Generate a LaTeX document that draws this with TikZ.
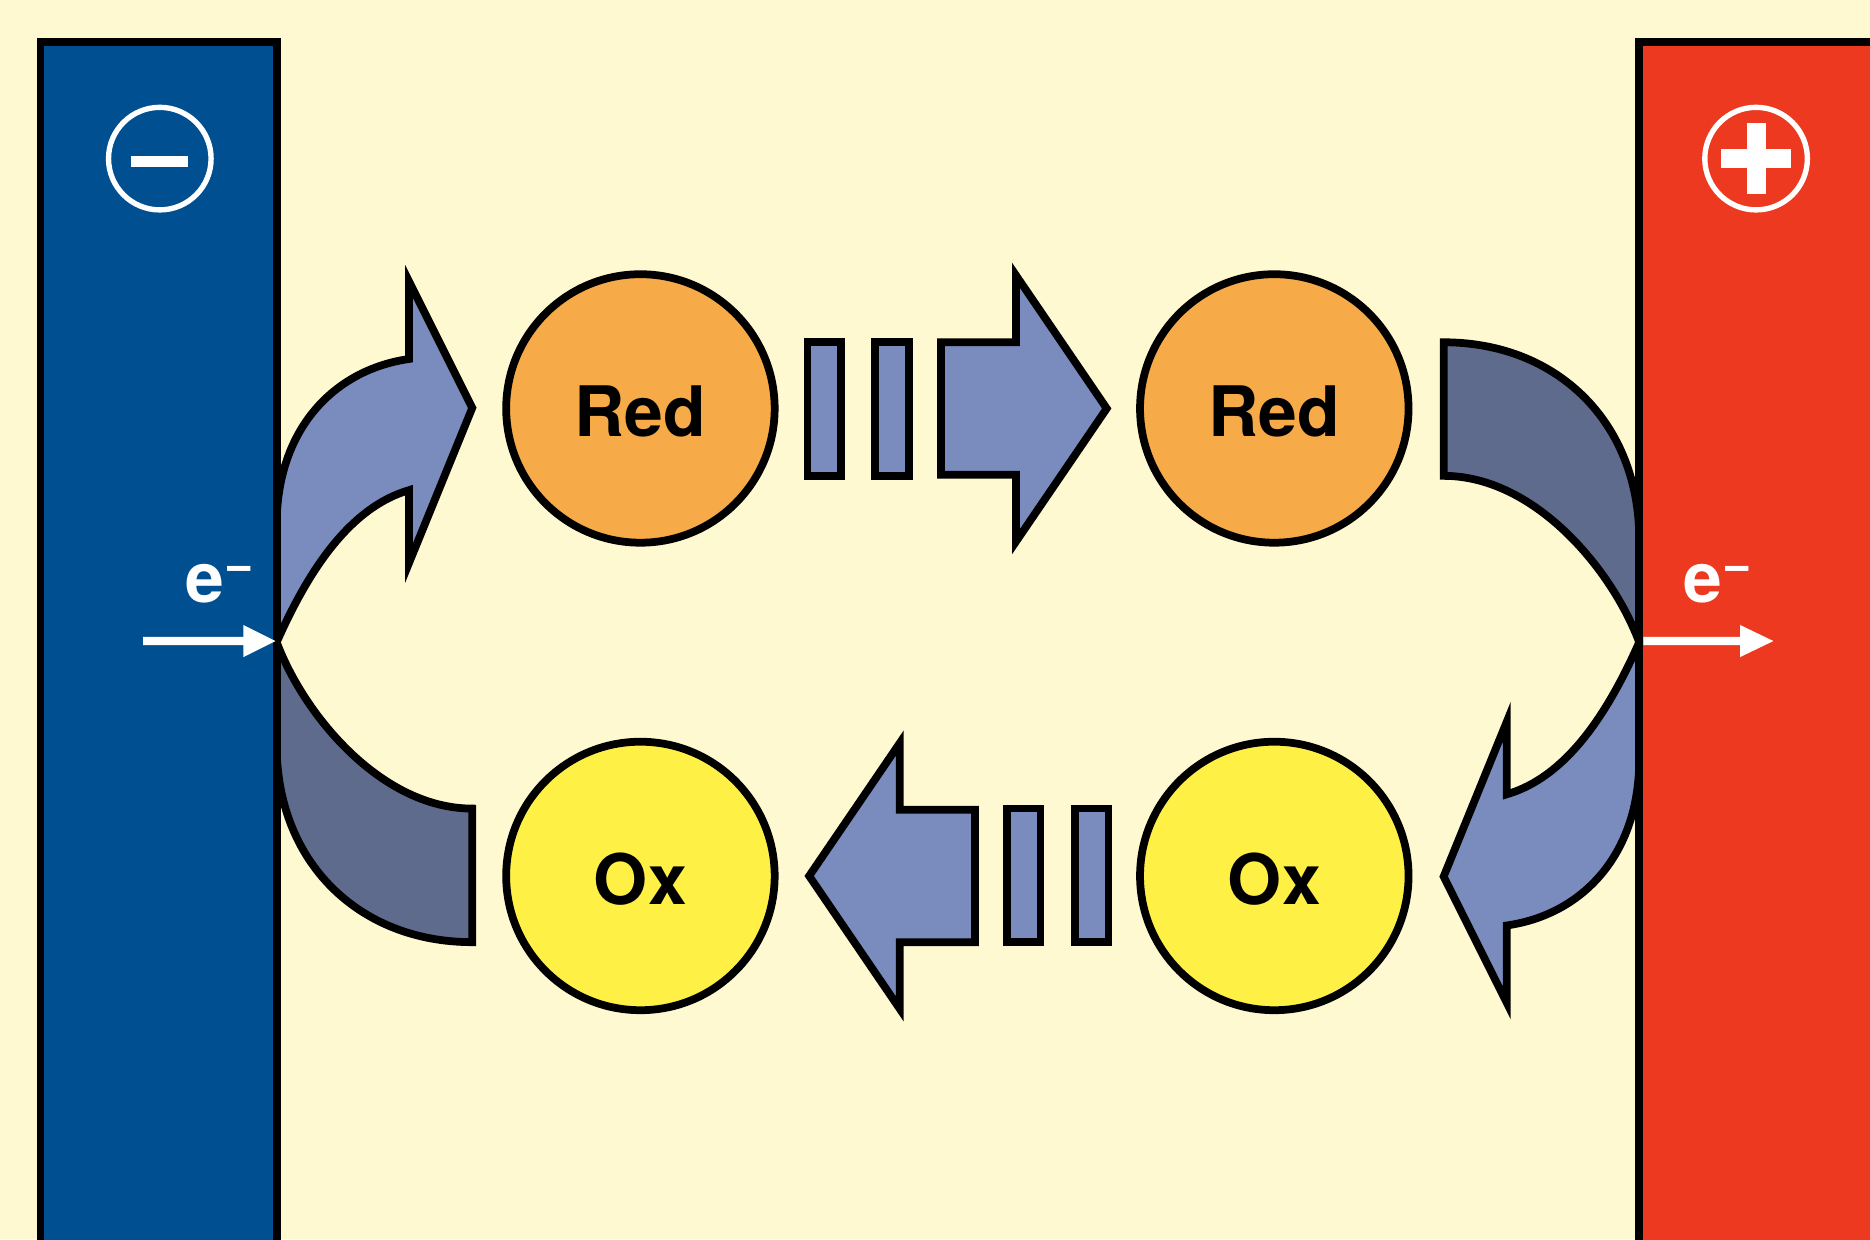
\documentclass[tikz,border=0pt]{standalone}
\usepackage{fontspec}
\setmainfont{TeX Gyre Heros}
\definecolor{bgcream}{RGB}{255,249,209}
\definecolor{elblue}{RGB}{0,79,145}
\definecolor{elred}{RGB}{237,57,32}
\definecolor{arrlight}{RGB}{122,140,190}
\definecolor{arrdark}{RGB}{94,107,140}
\definecolor{orangeC}{RGB}{246,170,72}
\definecolor{yellowC}{RGB}{255,240,70}
\newcommand\halfpart{%
  % curved arrow leaving the electrode (light)
  \path[lightarrow] (232,538.5) -- (232,440)
    .. controls (232,360) and (280,310) .. (343,301)
    -- (343,236) -- (396,342) -- (343,472) -- (343,411)
    .. controls (295,425) and (260,475) .. (232,538.5) -- cycle;
  % curved band arriving at the electrode (dark)
  \path[darkband] (232,538.5) -- (232,625)
    .. controls (232,722) and (300,790) .. (396,790)
    -- (396,678)
    .. controls (320,678) and (255,600) .. (232,538.5) -- cycle;
  % bars
  \path[ol,fill=arrlight] (677,287) rectangle (705,399);
  \path[ol,fill=arrlight] (734,287) rectangle (762,399);
  % straight arrow
  \path[lightarrow] (789,287) -- (852,287) -- (852,231) -- (928,342.5)
    -- (852,454) -- (852,398) -- (789,398) -- cycle;
}
\begin{document}
\begin{tikzpicture}[x=0.01cm,y=-0.01cm,
  ol/.style={draw=black,line width=0.065cm,line join=miter},
  lightarrow/.style={ol,fill=arrlight},
  darkband/.style={ol,fill=arrdark},
  species/.style={circle,ol,minimum size=2.25cm,inner sep=0pt,
    font=\fontsize{16.6}{19.6}\selectfont\bfseries,
    text height=0.47cm,text depth=0cm},
  elabel/.style={anchor=base west,inner sep=0pt,text=white,
    font=\fontsize{16.6}{19.6}\selectfont\bfseries},
  sign/.style={draw=white,line width=0.045cm}]
\useasboundingbox (0,0) rectangle (1568,1039);
\clip (0,0) rectangle (1568,1039);
\fill[bgcream] (0,0) rectangle (1568,1039);

% arrows (left half and its point-symmetric copy)
\halfpart
\begin{scope}[rotate around={180:(803.25,538.5)}]
  \halfpart
\end{scope}

% electrodes
\path[ol,fill=elblue] (34,35) rectangle (232,1100);
\path[ol,fill=elred] (1374,35) rectangle (1700,1100);

% species
\node[species,fill=orangeC] (red1) at (537,342.5) {Red};
\node[species,fill=orangeC] (red2) at (1068.5,342.5) {Red};
\node[species,fill=yellowC] (ox1) at (537,734.5) {Ox};
\node[species,fill=yellowC] (ox2) at (1068.5,734.5) {Ox};

% electrode signs
\draw[sign] (134,133) circle (43);
\fill[white] (110,131) rectangle (158,140);
\draw[sign] (1472.5,133) circle (43);
\fill[white] (1443,125) rectangle (1502,141);
\fill[white] (1464.5,103.5) rectangle (1480.5,162.5);

% electron labels and arrows
\node[elabel] (eleft) at (155,505) {e\raisebox{5pt}{\fontsize{12}{12}\selectfont −}};
\node[elabel] (eright) at (1411,505) {e\raisebox{5pt}{\fontsize{12}{12}\selectfont −}};
\fill[white] (120,534) -- (204,534) -- (204,524) -- (231,537.5)
  -- (204,551) -- (204,541) -- (120,541) -- cycle;
\fill[white] (1378,534) -- (1459,534) -- (1459,524) -- (1487,537.5)
  -- (1459,551) -- (1459,541) -- (1378,541) -- cycle;
\end{tikzpicture}
\end{document}
